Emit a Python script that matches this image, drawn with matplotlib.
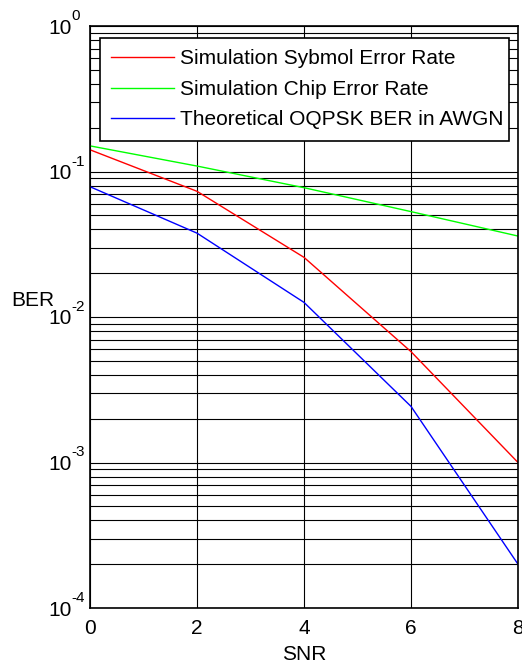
import matplotlib
matplotlib.use("Agg")
import matplotlib.pyplot as plt
import matplotlib.transforms as mtransforms
from matplotlib.ticker import LogLocator, NullFormatter, FixedLocator, FuncFormatter

snr = [0, 2, 4, 6, 8]
sym_err = [0.141, 0.0731, 0.0257, 0.00578, 0.00100]
chip_err = [0.150, 0.109, 0.0774, 0.053, 0.036]
theory_ber = [0.0786, 0.0377, 0.0126, 0.00243, 0.000200]
labels = ["Simulation Sybmol Error Rate", "Simulation Chip Error Rate",
          "Theoretical OQPSK BER in AWGN"]
xticks = [0, 2, 4, 6, 8]
yexponents = [-4, -3, -2, -1, 0]

plt.rcParams['font.family'] = ['Liberation Sans', 'DejaVu Sans']

fig = plt.figure(figsize=(5.22, 6.66), dpi=100)
W, H = 522, 666
ax = fig.add_axes([90 / W, (H - 608) / H, (518 - 90) / W, (608 - 26) / H])

ax.semilogy(snr, sym_err, color='#ff0000', lw=1.0, label=labels[0])
ax.semilogy(snr, chip_err, color='#00ff00', lw=1.0, label=labels[1])
ax.semilogy(snr, theory_ber, color='#0000ff', lw=1.0, label=labels[2])

ax.set_xlim(0, 8)
ax.set_ylim(1e-4, 1)
ax.xaxis.set_major_locator(FixedLocator(xticks))
ax.yaxis.set_major_locator(FixedLocator([10.0 ** e for e in yexponents]))
ax.yaxis.set_major_formatter(FuncFormatter(lambda v, p: "10"))
ax.yaxis.set_minor_locator(LogLocator(base=10, subs=range(2, 10), numticks=20))
ax.yaxis.set_minor_formatter(NullFormatter())

ax.grid(True, which='major', color='black', lw=0.8)
ax.grid(True, which='minor', axis='y', color='black', lw=0.8)

for s in ax.spines.values():
    s.set_linewidth(1.2)
    s.set_color('black')

ax.tick_params(which='both', direction='in', length=0, labelsize=15)
ax.tick_params(axis='x', pad=8)
ax.tick_params(axis='y', pad=13)

# superscript exponents in MATLAB style
blend = mtransforms.blended_transform_factory(ax.transAxes, ax.transData)
for e in yexponents:
    off = mtransforms.offset_copy(blend, fig=fig, x=-19, y=10, units='dots')
    ax.text(0, 10.0 ** e, "%d" % e, transform=off, ha='left', va='center',
            fontsize=11, clip_on=False)

ax.set_xlabel("SNR", fontsize=15, labelpad=5)
ax.set_ylabel("BER", fontsize=15, rotation=0, va='center', ha='center')
ax.yaxis.set_label_coords((33 - 90) / 428, (608 - 300) / 582)

leg = ax.legend(loc='upper left', bbox_to_anchor=(10 / 428, (608 - 38) / 582, (509 - 100) / 428, 0.0),
                mode='expand', fontsize=15, frameon=True, fancybox=False,
                edgecolor='black', framealpha=1, borderaxespad=0,
                handlelength=3.0, handletextpad=0.3, borderpad=0.55,
                labelspacing=0.55)
leg.get_frame().set_linewidth(1.2)

fig.savefig("out.png", dpi=100)
